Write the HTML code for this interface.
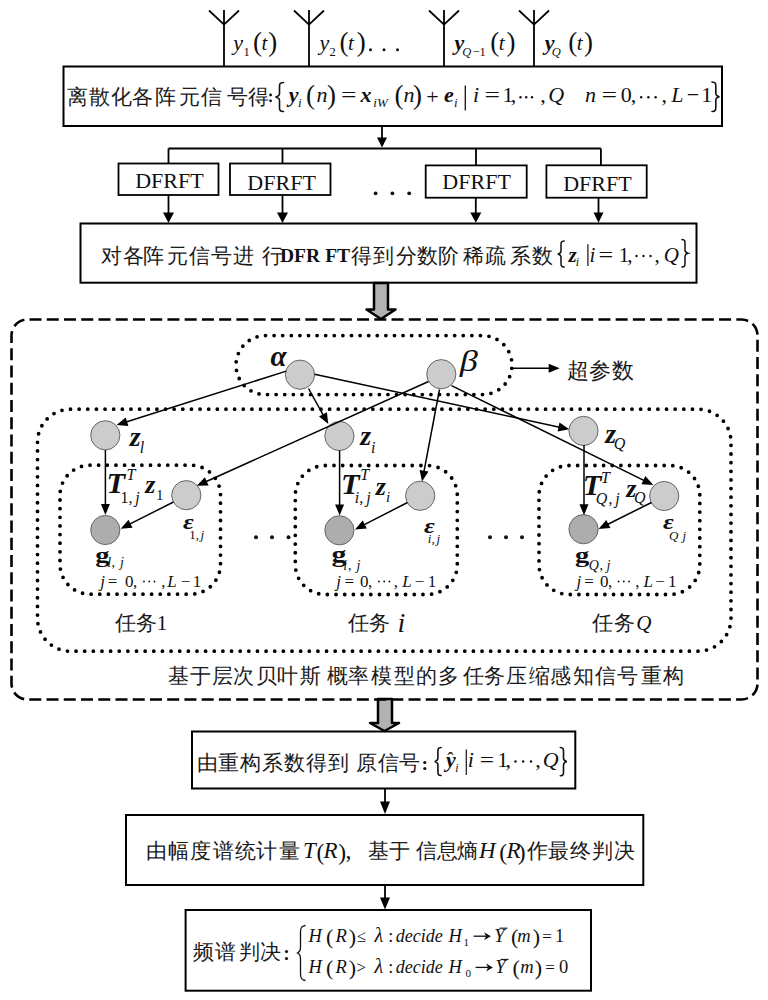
<!DOCTYPE html>
<html><head><meta charset="utf-8">
<style>
html,body{margin:0;padding:0;background:#fff;width:768px;height:1000px;overflow:hidden}
svg{display:block}
.cn{font-family:"Liberation Sans",sans-serif;fill:#1a1a1a}
.m{font-family:"Liberation Serif",serif;fill:#111}
.bi{font-weight:bold;font-style:italic}
.it{font-style:italic}
.b{font-weight:bold}
</style></head><body>
<svg width="768" height="1000" viewBox="0 0 768 1000">

<g fill="none" stroke="#000" stroke-width="1.8">
<!-- antennas -->
<path d="M224,66 V10 M209,10.5 L224,24.6 L239,10.5"/>
<path d="M309,66 V10 M294,10.5 L309,24.6 L324,10.5"/>
<path d="M444,66 V10 M429,10.5 L444,24.6 L459,10.5"/>
<path d="M534,66 V10 M519,10.5 L534,24.6 L549,10.5"/>
<!-- top box -->
<rect x="63.5" y="66.5" width="658.5" height="59.5" stroke-width="2"/>
<!-- DFRFT branches -->
<path d="M168.5,148.5 H600.9 M168.5,148.5 V163.5 M282.5,148.5 V163.5 M476,148.5 V165.4 M600.9,148.5 V165.3"/>
<rect x="118.5" y="163.5" width="100" height="31.5"/>
<rect x="230" y="163.5" width="100.5" height="31.5"/>
<rect x="425.7" y="165.4" width="101" height="32.3"/>
<rect x="546.4" y="165.3" width="100.3" height="32.4"/>
<rect x="80.5" y="223.5" width="616" height="59.2" stroke-width="2"/>
<rect x="192" y="731.5" width="383.3" height="57" stroke-width="2"/>
<rect x="126" y="815" width="517.3" height="70" stroke-width="2"/>
<rect x="185.6" y="910" width="405.4" height="80.7" stroke-width="2"/>
</g>
<!-- arrows -->
<g stroke="#000" stroke-width="1.8" fill="#000">
<path d="M382,126 V138" /><path d="M377,137.5 L387,137.5 L382,147.5 z" stroke="none"/>
<path d="M168.5,195 V213" /><path d="M163,212.5 L174,212.5 L168.5,223 z" stroke="none"/>
<path d="M282.5,195 V213" /><path d="M277,212.5 L288,212.5 L282.5,223 z" stroke="none"/>
<path d="M475.8,197.7 V213" /><path d="M470.3,212.5 L481.3,212.5 L475.8,222.8 z" stroke="none"/>
<path d="M598.5,197.7 V213" /><path d="M593.5,212.5 L603.5,212.5 L598.5,222.8 z" stroke="none"/>
<path d="M385,788.5 V802" /><path d="M380,801.5 L390,801.5 L385,814 z" stroke="none"/>
<path d="M385,885 V898" /><path d="M380,897.5 L390,897.5 L385,909.5 z" stroke="none"/>
</g>
<!-- gray block arrows -->
<path d="M374,283 H388 V309.5 H395.5 L381,319 L366.5,309.5 H374 Z" fill="#b2b2b2" stroke="#000" stroke-width="2.5" stroke-linejoin="round"/>
<path d="M378,699 H392 V723 H399 L384.5,731 L370,723 H378 Z" fill="#b2b2b2" stroke="#000" stroke-width="2.5" stroke-linejoin="round"/>
<!-- dashed big box -->
<rect x="11.5" y="319.5" width="746" height="380" rx="16" ry="16" fill="none" stroke="#000" stroke-width="2.6" pathLength="2218.8" stroke-dasharray="12 5.2" stroke-dashoffset="-2"/>
<!-- dotted boxes -->
<g fill="none" stroke="#000" stroke-width="3.8" stroke-linecap="round">
<rect x="236" y="335.6" width="276" height="59" rx="29.5" ry="29.5" pathLength="72" stroke-dasharray="0 1"/>
<rect x="37.5" y="409.2" width="693.5" height="242" rx="33" ry="33" pathLength="210" stroke-dasharray="0 1"/>
<rect x="60" y="465.2" width="160.5" height="129" rx="30" ry="30" pathLength="61" stroke-dasharray="0 1"/>
<rect x="295.3" y="465.5" width="162" height="129" rx="30" ry="30" pathLength="61" stroke-dasharray="0 1"/>
<rect x="539" y="465.5" width="160.8" height="129" rx="30" ry="30" pathLength="61" stroke-dasharray="0 1"/>
</g>

<!-- circles -->
<g stroke="#666" stroke-width="1">
<circle cx="300" cy="374.7" r="14.6" fill="#cccccc"/>
<circle cx="441.3" cy="374.2" r="14.6" fill="#cccccc"/>
<circle cx="105.3" cy="435.3" r="14.6" fill="#cccccc"/>
<circle cx="186.3" cy="495.2" r="14.6" fill="#cccccc"/>
<circle cx="105.3" cy="530" r="14.6" fill="#adadad"/>
<circle cx="339.4" cy="436" r="14.6" fill="#cccccc"/>
<circle cx="420.2" cy="495.8" r="14.6" fill="#cccccc"/>
<circle cx="339.4" cy="530.3" r="14.6" fill="#adadad"/>
<circle cx="583.5" cy="430.9" r="14.6" fill="#cccccc"/>
<circle cx="664.2" cy="496" r="14.6" fill="#cccccc"/>
<circle cx="583.5" cy="529.2" r="14.6" fill="#adadad"/>
</g>
<text class="m" x="233.24" y="49.70" font-size="22" font-style="italic" fill="#111">y</text>
<text class="m" x="243.40" y="55.50" font-size="12.5"  fill="#111">1</text>
<text class="m" x="253.01" y="50.90" font-size="27"  fill="#111">(</text>
<text class="m" x="261.48" y="49.70" font-size="21" font-style="italic" fill="#111">t</text>
<text class="m" x="268.30" y="50.90" font-size="27"  fill="#111">)</text>
<text class="m" x="319.54" y="49.70" font-size="22" font-style="italic" fill="#111">y</text>
<text class="m" x="329.45" y="55.80" font-size="12.5"  fill="#111">2</text>
<text class="m" x="339.41" y="50.90" font-size="27"  fill="#111">(</text>
<text class="m" x="347.88" y="49.70" font-size="21" font-style="italic" fill="#111">t</text>
<text class="m" x="356.70" y="50.90" font-size="27"  fill="#111">)</text>
<circle cx="370.5" cy="49.8" r="1.5" fill="#111"/>
<circle cx="384.0" cy="49.8" r="1.5" fill="#111"/>
<circle cx="397.5" cy="49.8" r="1.5" fill="#111"/>
<text class="m" x="454.50" y="49.70" font-size="22" font-weight="bold" font-style="italic" fill="#111">y</text>
<text class="m" x="462.31" y="56.00" font-size="12.5" font-style="italic" fill="#111">Q</text>
<text class="m" x="472.38" y="56.00" font-size="12.5"  fill="#111">−1</text>
<text class="m" x="490.21" y="50.90" font-size="27"  fill="#111">(</text>
<text class="m" x="498.68" y="49.70" font-size="21" font-style="italic" fill="#111">t</text>
<text class="m" x="506.60" y="50.90" font-size="27"  fill="#111">)</text>
<text class="m" x="544.70" y="49.70" font-size="22" font-weight="bold" font-style="italic" fill="#111">y</text>
<text class="m" x="551.81" y="56.00" font-size="12.5" font-style="italic" fill="#111">Q</text>
<text class="m" x="568.21" y="50.90" font-size="27"  fill="#111">(</text>
<text class="m" x="576.68" y="49.70" font-size="21" font-style="italic" fill="#111">t</text>
<text class="m" x="583.90" y="50.90" font-size="27"  fill="#111">)</text>
<text class="cn" x="66.5 88.5 110.5 132.3 154.9 178.6 200.9 226.6 247.7" y="104.31" font-size="21" fill="#444444">离散化各阵元信号得</text>
<circle cx="270.6" cy="95" r="1.4" fill="#111"/><circle cx="270.6" cy="100.8" r="1.4" fill="#111"/>
<path d="M283.5,82.5 C279.5,82.5 279.5,84.2 279.5,87.1 L279.5,93.5 C279.5,96.1 275.5,97.0 275.5,97.0 C275.5,97.0 279.5,97.9 279.5,100.5 L279.5,106.9 C279.5,109.8 279.5,111.5 283.5,111.5" fill="none" stroke="#111" stroke-width="1.6" stroke-linecap="round"/>
<text class="m" x="288.70" y="102.20" font-size="22" font-weight="bold" font-style="italic" fill="#111">y</text>
<text class="m" x="297.88" y="106.70" font-size="13" font-style="italic" fill="#111">i</text>
<text class="m" x="306.11" y="103.70" font-size="27"  fill="#111">(</text>
<text class="m" x="316.52" y="102.20" font-size="22" font-style="italic" fill="#111">n</text>
<text class="m" x="326.90" y="103.70" font-size="27"  fill="#111">)</text>
<text class="m" transform="translate(340.93,102.20) scale(1.25,1)" font-size="22"  fill="#111">=</text>
<text class="m" x="360.57" y="102.20" font-size="22" font-weight="bold" font-style="italic" fill="#111">x</text>
<text class="m" x="373.28" y="106.70" font-size="13" font-style="italic" fill="#111">iW</text>
<text class="m" x="394.61" y="103.70" font-size="27"  fill="#111">(</text>
<text class="m" x="403.62" y="102.20" font-size="22" font-style="italic" fill="#111">n</text>
<text class="m" x="413.00" y="103.70" font-size="27"  fill="#111">)</text>
<text class="m" x="426.20" y="104.20" font-size="22"  fill="#111">+</text>
<text class="m" x="443.98" y="102.20" font-size="22" font-weight="bold" font-style="italic" fill="#111">e</text>
<text class="m" x="454.08" y="106.70" font-size="13" font-style="italic" fill="#111">i</text>
<line x1="465.3" y1="85.5" x2="465.3" y2="110.5" stroke="#111" stroke-width="1.3"/>
<text class="m" x="473.08" y="102.20" font-size="22" font-style="italic" fill="#111">i</text>
<text class="m" transform="translate(484.43,102.20) scale(1.25,1)" font-size="22"  fill="#111">=</text>
<text class="m" x="502.47" y="102.20" font-size="22"  fill="#111">1</text>
<text class="m" x="510.66" y="102.20" font-size="22"  fill="#111">,</text>
<circle cx="520.5" cy="97.2" r="1.2" fill="#111"/>
<circle cx="526.2" cy="97.2" r="1.2" fill="#111"/>
<circle cx="532.0" cy="97.2" r="1.2" fill="#111"/>
<text class="m" x="540.16" y="102.20" font-size="22"  fill="#111">,</text>
<text class="m" x="548.29" y="102.20" font-size="22" font-style="italic" fill="#111">Q</text>
<text class="m" x="584.92" y="102.20" font-size="22" font-style="italic" fill="#111">n</text>
<text class="m" transform="translate(601.53,102.20) scale(1.25,1)" font-size="22"  fill="#111">=</text>
<text class="m" x="620.66" y="102.20" font-size="22"  fill="#111">0</text>
<text class="m" x="630.76" y="102.20" font-size="22"  fill="#111">,</text>
<circle cx="641.2" cy="97.2" r="1.2" fill="#111"/>
<circle cx="648.4" cy="97.2" r="1.2" fill="#111"/>
<circle cx="655.6" cy="97.2" r="1.2" fill="#111"/>
<text class="m" x="661.56" y="102.20" font-size="22"  fill="#111">,</text>
<text class="m" x="671.26" y="102.20" font-size="22" font-style="italic" fill="#111">L</text>
<text class="m" x="686.70" y="102.20" font-size="22"  fill="#111">−</text>
<text class="m" x="701.37" y="102.20" font-size="22"  fill="#111">1</text>
<path d="M712.0,82.0 C715.8,82.0 715.8,83.8 715.8,86.7 L715.8,93.2 C715.8,95.9 719.5,96.8 719.5,96.8 C719.5,96.8 715.8,97.6 715.8,100.3 L715.8,106.8 C715.8,109.7 715.8,111.5 712.0,111.5" fill="none" stroke="#111" stroke-width="1.6" stroke-linecap="round"/>
<text class="m" x="135.17" y="188.20" font-size="22"  fill="#111">DFRFT</text>
<text class="m" x="247.37" y="189.50" font-size="22"  fill="#111">DFRFT</text>
<text class="m" x="442.37" y="189.30" font-size="22"  fill="#111">DFRFT</text>
<text class="m" x="563.17" y="191.00" font-size="22"  fill="#111">DFRFT</text>
<circle cx="375.6" cy="193.3" r="1.9" fill="#111"/>
<circle cx="392.4" cy="193.3" r="1.9" fill="#111"/>
<circle cx="409.2" cy="193.3" r="1.9" fill="#111"/>
<text class="cn" x="100.6 122.7 143.3 167.0 189.3 210.6 233.0 261.7" y="263.31" font-size="21" fill="#444444">对各阵元信号进行</text>
<text class="m" x="279.96" y="262.00" font-size="19.5" font-weight="bold" fill="#111">DFR</text>
<text class="m" x="325.17" y="262.00" font-size="19.5" font-weight="bold" fill="#111">FT</text>
<text class="cn" x="350.5 372.6 395.8 417.1 438.2 462.9 484.9 510.3 532.2" y="263.25" font-size="21" fill="#444444">得到分数阶稀疏系数</text>
<path d="M564.2,241.0 C561.0,241.0 561.0,242.6 561.0,245.2 L561.0,250.9 C561.0,253.2 557.8,254.0 557.8,254.0 C557.8,254.0 561.0,254.8 561.0,257.1 L561.0,262.8 C561.0,265.4 561.0,267.0 564.2,267.0" fill="none" stroke="#111" stroke-width="1.5" stroke-linecap="round"/>
<text class="m" x="568.39" y="261.50" font-size="21" font-weight="bold" font-style="italic" fill="#111">z</text>
<text class="m" x="575.63" y="265.50" font-size="12" font-style="italic" fill="#111">i</text>
<line x1="587.9" y1="244.2" x2="587.9" y2="266" stroke="#111" stroke-width="1.2"/>
<text class="m" x="589.43" y="261.50" font-size="21" font-style="italic" fill="#111">i</text>
<text class="m" transform="translate(598.39,261.50) scale(1.25,1)" font-size="21"  fill="#111">=</text>
<text class="m" x="618.85" y="261.50" font-size="21"  fill="#111">1</text>
<text class="m" x="627.20" y="261.50" font-size="21"  fill="#111">,</text>
<circle cx="636.5" cy="256.0" r="1.2" fill="#111"/>
<circle cx="643.5" cy="256.0" r="1.2" fill="#111"/>
<circle cx="650.5" cy="256.0" r="1.2" fill="#111"/>
<text class="m" x="654.50" y="261.50" font-size="21"  fill="#111">,</text>
<text class="m" x="663.64" y="261.50" font-size="21" font-style="italic" fill="#111">Q</text>
<path d="M682.0,239.5 C685.0,239.5 685.0,241.2 685.0,243.9 L685.0,249.9 C685.0,252.4 688.0,253.2 688.0,253.2 C688.0,253.2 685.0,254.1 685.0,256.6 L685.0,262.6 C685.0,265.4 685.0,267.0 682.0,267.0" fill="none" stroke="#111" stroke-width="1.5" stroke-linecap="round"/>
<line x1="286.3" y1="371.1" x2="126.1" y2="422.0" stroke="#000" stroke-width="1.5"/>
<path d="M116.6,425.0 L125.7,417.4 L128.4,426.0 Z" fill="#000"/>
<line x1="308.5" y1="388.5" x2="323.4" y2="415.3" stroke="#000" stroke-width="1.5"/>
<path d="M328.3,424.0 L319.0,416.6 L326.9,412.2 Z" fill="#000"/>
<line x1="314.6" y1="374.2" x2="559.5" y2="427.2" stroke="#000" stroke-width="1.5"/>
<path d="M569.3,429.3 L557.6,431.4 L559.5,422.6 Z" fill="#000"/>
<line x1="428.5" y1="381.5" x2="205.8" y2="481.7" stroke="#000" stroke-width="1.5"/>
<path d="M196.7,485.8 L204.9,477.2 L208.6,485.4 Z" fill="#000"/>
<line x1="439.5" y1="389.5" x2="423.9" y2="471.8" stroke="#000" stroke-width="1.5"/>
<path d="M422.0,481.6 L419.6,470.0 L428.5,471.6 Z" fill="#000"/>
<line x1="451.5" y1="385.6" x2="644.3" y2="480.6" stroke="#000" stroke-width="1.5"/>
<path d="M653.3,485.0 L641.4,484.2 L645.4,476.1 Z" fill="#000"/>
<line x1="105.4" y1="450.0" x2="105.4" y2="505.0" stroke="#000" stroke-width="1.5"/>
<path d="M105.4,515.0 L100.9,504.0 L109.9,504.0 Z" fill="#000"/>
<line x1="339.6" y1="450.5" x2="339.6" y2="505.5" stroke="#000" stroke-width="1.5"/>
<path d="M339.6,515.5 L335.1,504.5 L344.1,504.5 Z" fill="#000"/>
<line x1="584.0" y1="445.0" x2="584.0" y2="505.2" stroke="#000" stroke-width="1.5"/>
<path d="M584.0,515.2 L579.5,504.2 L588.5,504.2 Z" fill="#000"/>
<line x1="173.5" y1="502.0" x2="129.6" y2="524.2" stroke="#000" stroke-width="1.5"/>
<path d="M120.7,528.7 L128.5,519.7 L132.5,527.8 Z" fill="#000"/>
<line x1="407.5" y1="502.5" x2="363.9" y2="524.9" stroke="#000" stroke-width="1.5"/>
<path d="M355.0,529.5 L362.7,520.5 L366.8,528.5 Z" fill="#000"/>
<line x1="651.5" y1="502.5" x2="607.4" y2="524.5" stroke="#000" stroke-width="1.5"/>
<path d="M598.5,529.0 L606.3,520.1 L610.4,528.1 Z" fill="#000"/>
<line x1="511.4" y1="368.2" x2="549.7" y2="368.2" stroke="#000" stroke-width="1.5"/>
<path d="M559.7,368.2 L548.7,372.7 L548.7,363.7 Z" fill="#000"/>
<text class="m" x="270.52" y="366.30" font-size="29" font-weight="bold" font-style="italic" fill="#111">α</text>
<text class="m" transform="translate(459.78,370.90) scale(1.25,1)" font-size="29" font-style="italic" fill="#111">β</text>
<text class="cn" x="567.3 589.0 611.7" y="377.67" font-size="21.5" fill="#444444">超参数</text>
<text class="m" x="129.79" y="446.00" font-size="28" font-weight="bold" font-style="italic" fill="#111">z</text>
<text class="m" x="139.65" y="452.50" font-size="16" font-style="italic" fill="#111">l</text>
<text class="m" transform="translate(106.58,492.50) scale(1.05,1)" font-size="29" font-weight="bold" font-style="italic" fill="#111">T</text>
<text class="m" x="126.45" y="479.50" font-size="16" font-style="italic" fill="#111">T</text>
<text class="m" x="120.59" y="502.50" font-size="16"  fill="#111">1,</text>
<text class="m" x="135.21" y="502.50" font-size="16" font-style="italic" fill="#111">j</text>
<text class="m" x="145.14" y="493.20" font-size="26" font-weight="bold" font-style="italic" fill="#111">z</text>
<text class="m" x="155.98" y="499.80" font-size="15"  fill="#111">1</text>
<text class="m" transform="translate(182.99,529.30) scale(1.25,1)" font-size="21" font-weight="bold" font-style="italic" fill="#111">ε</text>
<text class="m" x="189.36" y="538.80" font-size="13"  fill="#111">1,</text>
<text class="m" x="200.39" y="538.80" font-size="13" font-style="italic" fill="#111">j</text>
<text class="m" transform="translate(95.25,561.50) scale(1.3,1)" font-size="22" font-weight="bold" fill="#111">g</text>
<text class="m" x="107.25" y="567.00" font-size="14" font-style="italic" fill="#111">l</text>
<text class="m" x="111.47" y="567.00" font-size="14"  fill="#111">,</text>
<text class="m" x="120.00" y="566.50" font-size="14" font-style="italic" fill="#111">j</text>
<text class="m" x="100.32" y="586.50" font-size="17" font-style="italic" fill="#111">j</text>
<text class="m" x="107.85" y="586.50" font-size="17"  fill="#111">=</text>
<text class="m" x="124.95" y="586.50" font-size="17"  fill="#111">0</text>
<text class="m" x="132.95" y="586.50" font-size="17"  fill="#111">,</text>
<circle cx="144.0" cy="581.5" r="0.9" fill="#111"/>
<circle cx="149.2" cy="581.5" r="0.9" fill="#111"/>
<circle cx="154.5" cy="581.5" r="0.9" fill="#111"/>
<text class="m" x="161.35" y="586.50" font-size="17"  fill="#111">,</text>
<text class="m" x="167.20" y="586.50" font-size="17" font-style="italic" fill="#111">L</text>
<text class="m" x="180.65" y="586.50" font-size="17"  fill="#111">−</text>
<text class="m" x="192.71" y="586.50" font-size="17"  fill="#111">1</text>
<text class="m" x="360.29" y="444.70" font-size="28" font-weight="bold" font-style="italic" fill="#111">z</text>
<text class="m" x="371.11" y="452.50" font-size="16" font-style="italic" fill="#111">i</text>
<text class="m" transform="translate(340.98,494.30) scale(1.05,1)" font-size="29" font-weight="bold" font-style="italic" fill="#111">T</text>
<text class="m" x="360.35" y="480.30" font-size="16" font-style="italic" fill="#111">T</text>
<text class="m" x="354.71" y="502.50" font-size="16" font-style="italic" fill="#111">i,</text>
<text class="m" x="366.21" y="502.50" font-size="16" font-style="italic" fill="#111">j</text>
<text class="m" x="375.84" y="495.30" font-size="26" font-weight="bold" font-style="italic" fill="#111">z</text>
<text class="m" x="385.97" y="502.30" font-size="15" font-style="italic" fill="#111">i</text>
<text class="m" transform="translate(423.99,532.50) scale(1.25,1)" font-size="21" font-weight="bold" font-style="italic" fill="#111">ε</text>
<text class="m" x="427.78" y="543.00" font-size="13" font-style="italic" fill="#111">i,</text>
<text class="m" x="436.39" y="543.00" font-size="13" font-style="italic" fill="#111">j</text>
<text class="m" transform="translate(331.51,562.00) scale(1.3,1)" font-size="23" font-weight="bold" fill="#111">g</text>
<text class="m" x="343.22" y="570.00" font-size="14" font-style="italic" fill="#111">i</text>
<text class="m" x="347.97" y="570.00" font-size="14"  fill="#111">,</text>
<text class="m" x="356.50" y="570.00" font-size="14" font-style="italic" fill="#111">j</text>
<text class="m" x="336.22" y="586.50" font-size="17" font-style="italic" fill="#111">j</text>
<text class="m" x="344.55" y="586.50" font-size="17"  fill="#111">=</text>
<text class="m" x="359.95" y="586.50" font-size="17"  fill="#111">0</text>
<text class="m" x="367.95" y="586.50" font-size="17"  fill="#111">,</text>
<circle cx="379.0" cy="581.5" r="0.9" fill="#111"/>
<circle cx="384.2" cy="581.5" r="0.9" fill="#111"/>
<circle cx="389.5" cy="581.5" r="0.9" fill="#111"/>
<text class="m" x="393.85" y="586.50" font-size="17"  fill="#111">,</text>
<text class="m" x="402.20" y="586.50" font-size="17" font-style="italic" fill="#111">L</text>
<text class="m" x="414.75" y="586.50" font-size="17"  fill="#111">−</text>
<text class="m" x="427.71" y="586.50" font-size="17"  fill="#111">1</text>
<text class="m" x="605.29" y="442.50" font-size="28" font-weight="bold" font-style="italic" fill="#111">z</text>
<text class="m" x="613.82" y="449.00" font-size="16" font-style="italic" fill="#111">Q</text>
<text class="m" transform="translate(582.78,495.00) scale(1.05,1)" font-size="29" font-weight="bold" font-style="italic" fill="#111">T</text>
<text class="m" x="600.95" y="483.00" font-size="16" font-style="italic" fill="#111">T</text>
<text class="m" x="595.82" y="503.50" font-size="16" font-style="italic" fill="#111">Q</text>
<text class="m" x="608.39" y="503.50" font-size="16"  fill="#111">,</text>
<text class="m" x="615.21" y="503.50" font-size="16" font-style="italic" fill="#111">j</text>
<text class="m" x="626.34" y="496.50" font-size="26" font-weight="bold" font-style="italic" fill="#111">z</text>
<text class="m" x="634.12" y="503.00" font-size="16" font-style="italic" fill="#111">Q</text>
<text class="m" transform="translate(662.99,529.30) scale(1.25,1)" font-size="21" font-weight="bold" font-style="italic" fill="#111">ε</text>
<text class="m" x="668.88" y="539.50" font-size="13" font-style="italic" fill="#111">Q</text>
<text class="m" x="682.39" y="539.50" font-size="13" font-style="italic" fill="#111">j</text>
<text class="m" transform="translate(575.05,561.50) scale(1.3,1)" font-size="22" font-weight="bold" fill="#111">g</text>
<text class="m" x="588.73" y="569.50" font-size="14" font-style="italic" fill="#111">Q</text>
<text class="m" x="599.47" y="569.50" font-size="14"  fill="#111">,</text>
<text class="m" x="606.50" y="569.50" font-size="14" font-style="italic" fill="#111">j</text>
<text class="m" x="576.42" y="586.50" font-size="17" font-style="italic" fill="#111">j</text>
<text class="m" x="584.15" y="586.50" font-size="17"  fill="#111">=</text>
<text class="m" x="599.95" y="586.50" font-size="17"  fill="#111">0</text>
<text class="m" x="607.95" y="586.50" font-size="17"  fill="#111">,</text>
<circle cx="618.5" cy="581.5" r="0.9" fill="#111"/>
<circle cx="623.8" cy="581.5" r="0.9" fill="#111"/>
<circle cx="629.0" cy="581.5" r="0.9" fill="#111"/>
<text class="m" x="635.35" y="586.50" font-size="17"  fill="#111">,</text>
<text class="m" x="643.50" y="586.50" font-size="17" font-style="italic" fill="#111">L</text>
<text class="m" x="655.15" y="586.50" font-size="17"  fill="#111">−</text>
<text class="m" x="667.91" y="586.50" font-size="17"  fill="#111">1</text>
<circle cx="256" cy="537.2" r="2" fill="#111"/>
<circle cx="272" cy="537.2" r="2" fill="#111"/>
<circle cx="288.5" cy="537.2" r="2" fill="#111"/>
<circle cx="490" cy="537.2" r="2" fill="#111"/>
<circle cx="506" cy="537.2" r="2" fill="#111"/>
<circle cx="522" cy="537.2" r="2" fill="#111"/>
<text class="cn" x="114.5 136.2" y="629.74" font-size="20.5" fill="#444444">任务</text>
<text class="m" x="156.75" y="630.30" font-size="21"  fill="#111">1</text>
<text class="cn" x="347.8 368.8" y="629.74" font-size="20.5" fill="#444444">任务</text>
<text class="m" x="397.44" y="631.50" font-size="28" font-style="italic" fill="#111">i</text>
<text class="cn" x="592.0 613.6" y="629.74" font-size="20.5" fill="#444444">任务</text>
<text class="m" x="636.34" y="630.30" font-size="21" font-style="italic" fill="#111">Q</text>
<text class="cn" x="167.5 190.4 212.3 232.9 255.9 277.0 300.2" y="683.22" font-size="20.5" fill="#444444">基于层次贝叶斯</text>
<text class="cn" x="326.8 348.2 371.3 393.8 415.8 438.3 463.3 483.7 505.8 528.6 550.3 573.0 594.8 617.0" y="683.36" font-size="20.5" fill="#444444">概率模型的多任务压缩感知信号</text>
<text class="cn" x="640.9 663.2" y="683.22" font-size="20.5" fill="#444444">重构</text>
<text class="cn" x="196.8 218.1 240.3 261.5 284.0 306.2 327.8 355.8 377.6 398.9" y="769.74" font-size="20.5" fill="#444444">由重构系数得到原信号</text>
<circle cx="424.8" cy="762.5" r="1.6" fill="#111"/><circle cx="424.8" cy="768.5" r="1.6" fill="#111"/>
<path d="M441.1,747.5 C437.9,747.5 437.9,749.2 437.9,752.0 L437.9,758.1 C437.9,760.7 434.7,761.5 434.7,761.5 C434.7,761.5 437.9,762.3 437.9,764.9 L437.9,771.0 C437.9,773.8 437.9,775.5 441.1,775.5" fill="none" stroke="#111" stroke-width="1.6" stroke-linecap="round"/>
<text class="m" x="446.00" y="766.80" font-size="22" font-weight="bold" font-style="italic" fill="#111">y</text>
<text class="m" x="447.33" y="765.30" font-size="19"  fill="#111">ˆ</text>
<text class="m" x="455.33" y="771.80" font-size="12" font-style="italic" fill="#111">i</text>
<line x1="466.3" y1="749.5" x2="466.3" y2="775" stroke="#111" stroke-width="1.2"/>
<text class="m" x="467.78" y="766.80" font-size="22" font-style="italic" fill="#111">i</text>
<text class="m" transform="translate(479.64,766.80) scale(1.15,1)" font-size="22"  fill="#111">=</text>
<text class="m" x="497.27" y="766.80" font-size="22"  fill="#111">1</text>
<text class="m" x="505.56" y="766.80" font-size="22"  fill="#111">,</text>
<circle cx="515.5" cy="761.5" r="1.2" fill="#111"/>
<circle cx="523.2" cy="761.5" r="1.2" fill="#111"/>
<circle cx="531.0" cy="761.5" r="1.2" fill="#111"/>
<text class="m" x="535.16" y="766.80" font-size="22"  fill="#111">,</text>
<text class="m" x="542.79" y="766.80" font-size="22" font-style="italic" fill="#111">Q</text>
<path d="M560.3,747.5 C563.5,747.5 563.5,749.2 563.5,752.0 L563.5,758.3 C563.5,760.8 566.8,761.6 566.8,761.6 C566.8,761.6 563.5,762.5 563.5,765.0 L563.5,771.3 C563.5,774.1 563.5,775.8 560.3,775.8" fill="none" stroke="#111" stroke-width="1.6" stroke-linecap="round"/>
<text class="cn" x="146.3 167.5 190.0 212.5 234.6 255.6 278.5" y="857.82" font-size="20.5" fill="#444444">由幅度谱统计量</text>
<text class="m" x="302.90" y="858.00" font-size="23" font-style="italic" fill="#111">T</text>
<text class="m" x="316.47" y="859.50" font-size="23.5"  fill="#111">(</text>
<text class="m" x="323.62" y="858.00" font-size="23" font-style="italic" fill="#111">R</text>
<text class="m" x="338.24" y="859.50" font-size="23.5"  fill="#111">)</text>
<text class="m" x="345.59" y="857.50" font-size="24"  fill="#111">,</text>
<text class="cn" x="368.0 388.8 416.1 437.0 456.9" y="857.92" font-size="20.5" fill="#444444">基于信息熵</text>
<text class="m" x="479.05" y="858.00" font-size="23" font-style="italic" fill="#111">H</text>
<text class="m" x="499.17" y="859.50" font-size="23.5"  fill="#111">(</text>
<text class="m" x="506.62" y="858.00" font-size="23" font-style="italic" fill="#111">R</text>
<text class="m" x="517.74" y="859.50" font-size="23.5"  fill="#111">)</text>
<text class="cn" x="526.9 547.8 570.2 591.9 614.0" y="857.74" font-size="20.5" fill="#444444">作最终判决</text>
<text class="cn" x="192.5 215.3 239.2 260.2" y="958.70" font-size="21" fill="#444444">频谱判决</text>
<circle cx="286.5" cy="951.5" r="1.6" fill="#111"/><circle cx="286.5" cy="958.5" r="1.6" fill="#111"/>
<path d="M305.5,925.5 C301,926 300.5,928.5 300.5,932 L300.5,947.5 C300.5,950.5 299.5,952 297.5,953 C299.5,954 300.5,955.5 300.5,958.5 L300.5,974 C300.5,977.5 301,980 305.5,980.5" fill="none" stroke="#111" stroke-width="1.3"/>
<text class="m" x="308.50" y="941.70" font-size="18.5" font-style="italic" fill="#111">H</text>
<text class="m" x="326.03" y="944.20" font-size="22"  fill="#111">(</text>
<text class="m" x="335.50" y="941.70" font-size="18.5" font-style="italic" fill="#111">R</text>
<text class="m" x="348.84" y="944.20" font-size="22"  fill="#111">)</text>
<text class="m" x="356.59" y="941.70" font-size="17"  fill="#111">≤</text>
<text class="m" x="374.49" y="941.70" font-size="20" font-style="italic" fill="#111">λ</text>
<text class="m" x="388.18" y="941.70" font-size="18"  fill="#111">:</text>
<text class="m" x="395.71" y="941.70" font-size="18" font-style="italic" fill="#111">decide</text>
<text class="m" x="448.50" y="941.70" font-size="18.5" font-style="italic" fill="#111">H</text>
<text class="m" x="463.53" y="945.70" font-size="11"  fill="#111">1</text>
<path d="M473.6,936.2 H486.6" stroke="#111" stroke-width="1.3"/><path d="M490.90000000000003,936.2 L484.1,932.2 L486.1,936.2 L484.1,940.2 Z" fill="#111"/>
<text class="m" x="494.14" y="941.70" font-size="18.5" font-style="italic" fill="#111">Y</text>
<line x1="499.5" y1="928.2" x2="507.5" y2="928.2" stroke="#111" stroke-width="1.1"/>
<text class="m" x="510.93" y="944.20" font-size="22"  fill="#111">(</text>
<text class="m" x="517.33" y="941.70" font-size="18.5" font-style="italic" fill="#111">m</text>
<text class="m" x="532.64" y="944.20" font-size="22"  fill="#111">)</text>
<text class="m" x="542.15" y="941.70" font-size="17"  fill="#111">=</text>
<text class="m" x="555.07" y="941.70" font-size="18.5"  fill="#111">1</text>
<text class="m" x="308.50" y="972.90" font-size="18.5" font-style="italic" fill="#111">H</text>
<text class="m" x="326.03" y="975.40" font-size="22"  fill="#111">(</text>
<text class="m" x="335.50" y="972.90" font-size="18.5" font-style="italic" fill="#111">R</text>
<text class="m" x="348.84" y="975.40" font-size="22"  fill="#111">)</text>
<text class="m" x="356.44" y="972.90" font-size="17"  fill="#111">&gt;</text>
<text class="m" x="374.49" y="972.90" font-size="20" font-style="italic" fill="#111">λ</text>
<text class="m" x="388.18" y="972.90" font-size="18"  fill="#111">:</text>
<text class="m" x="395.71" y="972.90" font-size="18" font-style="italic" fill="#111">decide</text>
<text class="m" x="448.50" y="972.90" font-size="18.5" font-style="italic" fill="#111">H</text>
<text class="m" x="465.58" y="976.90" font-size="11"  fill="#111">0</text>
<path d="M475.6,967.4 H488.6" stroke="#111" stroke-width="1.3"/><path d="M492.90000000000003,967.4 L486.1,963.4 L488.1,967.4 L486.1,971.4 Z" fill="#111"/>
<text class="m" x="495.14" y="972.90" font-size="18.5" font-style="italic" fill="#111">Y</text>
<line x1="500.5" y1="959.4" x2="508.5" y2="959.4" stroke="#111" stroke-width="1.1"/>
<text class="m" x="512.43" y="975.40" font-size="22"  fill="#111">(</text>
<text class="m" x="520.33" y="972.90" font-size="18.5" font-style="italic" fill="#111">m</text>
<text class="m" x="534.64" y="975.40" font-size="22"  fill="#111">)</text>
<text class="m" x="545.15" y="972.90" font-size="17"  fill="#111">=</text>
<text class="m" x="559.00" y="972.90" font-size="18.5"  fill="#111">0</text>
</svg>
</body></html>
